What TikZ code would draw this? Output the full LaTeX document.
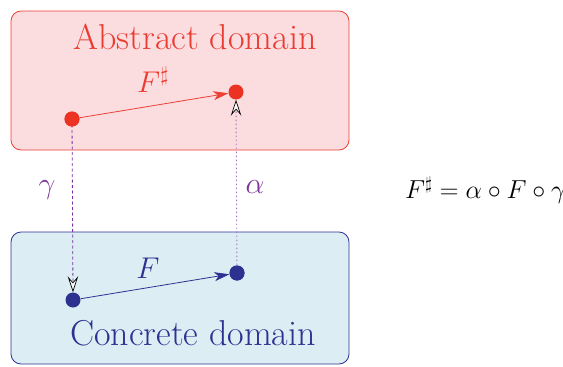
\RequirePackage{fix-cm}
\documentclass[tikz,border=0pt]{standalone}
\usetikzlibrary{arrows.meta}
\definecolor{absfill}{RGB}{251,220,223}
\definecolor{absline}{RGB}{238,64,53}
\definecolor{abstext}{RGB}{235,60,50}
\definecolor{absdot}{RGB}{235,50,35}
\definecolor{confill}{RGB}{220,238,243}
\definecolor{conline}{RGB}{46,49,146}
\definecolor{condot}{RGB}{45,50,145}
\definecolor{purp}{RGB}{125,55,155}
\definecolor{purpdash}{RGB}{120,50,160}
\definecolor{purpdot}{RGB}{165,105,195}
\tikzset{
  domainbox/.style={draw, rounded corners=10pt, line width=0.8pt, inner sep=0pt},
  dotnode/.style={circle, inner sep=0pt, minimum size=15pt},
  titlelabel/.style={font=\fontsize{36}{42}\selectfont, inner sep=0pt},
  biglabel/.style={font=\fontsize{30}{36}\selectfont, inner sep=0pt},
  solidtip/.style={-{Stealth[length=15pt,width=9pt,inset=4pt]}},
  opentip/.style={-{Stealth[open,fill=white,color=black,length=16pt,width=10.5pt,inset=6pt,line width=0.7pt]}}
}
\begin{document}
\begin{tikzpicture}[x=1pt,y=-1pt]
\useasboundingbox (0,0) rectangle (563,367);
% boxes
\node[domainbox, draw=absline, fill=absfill, minimum width=338pt, minimum height=139pt] (abox) at (180,80.5) {};
\node[domainbox, draw=conline, fill=confill, minimum width=338pt, minimum height=132pt] (cbox) at (180,298) {};
% titles
\node[titlelabel, text=abstext] (atitle) at (195,37) {Abstract domain};
\node[titlelabel, text=conline] (ctitle) at (193,333) {Concrete domain};
% dots
\node[dotnode, fill=absdot] (a1) at (72,119) {};
\node[dotnode, fill=absdot] (a2) at (236,92) {};
\node[dotnode, fill=condot] (c1) at (73,300) {};
\node[dotnode, fill=condot] (c2) at (237,273) {};
% gamma / alpha connectors
\draw[purpdash, line width=0.8pt, dash pattern=on 3pt off 2.5pt, opentip] (a1.center) -- (c1.north);
\draw[purpdot, line width=0.9pt, dash pattern=on 1.5pt off 2.5pt, opentip] (c2.center) -- (a2.south);
% F arrows
\draw[absline, line width=0.8pt, solidtip] (a1) -- (a2);
\draw[conline, line width=0.8pt, solidtip] (c1) -- (c2);
% redraw dots on top
\node[dotnode, fill=absdot] at (a1) {};
\node[dotnode, fill=condot] at (c2) {};
% labels
\node[biglabel, text=abstext] (fsharp) at (153,80) {$F^\sharp$};
\node[biglabel, text=conline] (flab) at (148,268) {$F$};
\node[biglabel, text=purp] (glab) at (47,190) {$\gamma$};
\node[biglabel, text=purp] (alab) at (255,187) {$\alpha$};
% formula
\node[anchor=east, inner sep=0pt, font=\fontsize{26}{31}\selectfont] (formula) at (566,190) {$F^\sharp = \alpha \circ F \circ \gamma$};
\end{tikzpicture}
\end{document}
